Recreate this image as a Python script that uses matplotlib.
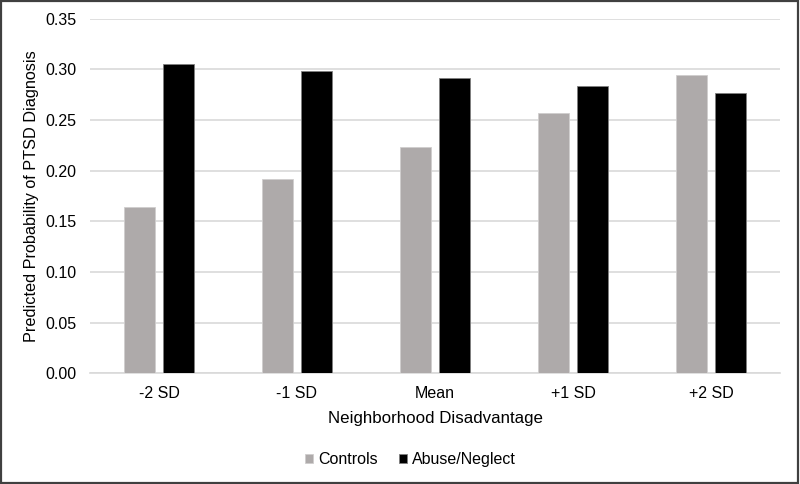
import matplotlib
matplotlib.use("Agg")
import matplotlib.pyplot as plt
import numpy as np
from matplotlib.patches import Rectangle

categories = ["-2 SD", "-1 SD", "Mean", "+1 SD", "+2 SD"]
controls = [0.164, 0.192, 0.223, 0.257, 0.294]
abuse = [0.305, 0.298, 0.291, 0.284, 0.277]
yticks = [0.00, 0.05, 0.10, 0.15, 0.20, 0.25, 0.30, 0.35]

plt.rcParams['font.family'] = ['Liberation Sans', 'DejaVu Sans']

fig = plt.figure(figsize=(8, 4.84), dpi=100)
ax = fig.add_axes([0.1125, 0.2287, 0.8625, 0.7327])

x = np.arange(len(categories))
w = 0.225
off = 0.141
ax.bar(x - off, controls, w, color="#AEAAAA", edgecolor="#D0CECE", linewidth=0.6, label="Controls", zorder=3)
ax.bar(x + off, abuse, w, color="#000000", edgecolor="#808080", linewidth=0.6, label="Abuse/Neglect", zorder=3)

ax.set_xlim(-0.5, len(categories) - 0.5)
ax.set_ylim(0, 0.35)
ax.set_yticks(yticks)
ax.set_yticklabels([f"{v:.2f}" for v in yticks])
ax.set_xticks(x)
ax.set_xticklabels(categories)
ax.tick_params(axis='both', length=0, labelsize=11.5, colors="#000000")
ax.tick_params(axis='y', pad=10)
ax.tick_params(axis='x', pad=9)
ax.yaxis.grid(True, color="#D9D9D9", linewidth=1.2, zorder=0)
ax.set_axisbelow(True)
for s in ["top", "right", "left"]:
    ax.spines[s].set_visible(False)
ax.spines["bottom"].set_color("#D9D9D9")
ax.spines["bottom"].set_linewidth(1.2)

ax.set_xlabel("Neighborhood Disadvantage", fontsize=12.2, labelpad=7)
ax.set_ylabel("Predicted Probability of PTSD Diagnosis", fontsize=11.7, labelpad=4)

leg = fig.legend(loc="center", bbox_to_anchor=(0.513, 0.05), ncol=2, frameon=False,
                 fontsize=11.5, handlelength=0.55, handleheight=0.55, handletextpad=0.3,
                 columnspacing=1.3)

fig.patches.append(Rectangle((0.001, 0.002), 0.997, 0.996, transform=fig.transFigure,
                             fill=False, edgecolor="#404040", linewidth=1.6))

fig.savefig("out.png", dpi=100)
